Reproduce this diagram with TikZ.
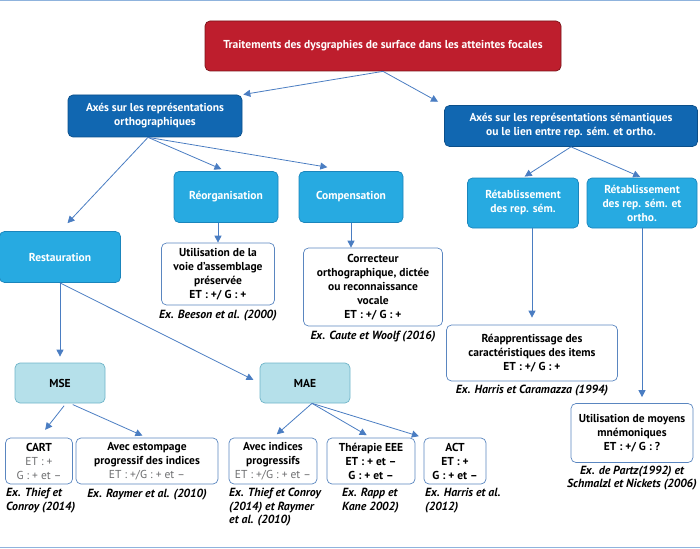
\documentclass[tikz,border=0pt]{standalone}
\usepackage{fontspec}
\setmainfont{PT Sans}
\usetikzlibrary{arrows.meta}

\definecolor{dgred}{HTML}{BE1E2D}
\definecolor{dgredline}{HTML}{7A1419}
\definecolor{dgdark}{HTML}{1167B1}
\definecolor{dgdarkline}{HTML}{0B4F8A}
\definecolor{dglight}{HTML}{27AAE1}
\definecolor{dglightline}{HTML}{1A85BC}
\definecolor{dgpale}{HTML}{B5E0EA}
\definecolor{dgpaleline}{HTML}{6FB4C8}
\definecolor{dgedge}{HTML}{4A7DC2}
\definecolor{dgframe}{HTML}{5A86C0}
\definecolor{dgrule}{HTML}{8FB3DD}
\definecolor{dggrey}{HTML}{6D6E70}

\newcommand{\dgnode}[6] {\node at (#1) (#2) [#3, minimum width=#4pt, minimum height=#5pt] {#6};}
\newcommand{\dgref}[4] {\node at (#1) (#2) [refnote, #3] {#4};}
\newcommand{\dgarrow}[3][] {\draw [dgline, #1] (#2) -- (#3);}
\newcommand{\dgsoft}[1] {\textcolor{dggrey}{\mdseries #1}}

\begin{document}
\begin{tikzpicture}[x=1pt, y=-1pt,
  base/.style={rounded corners=5pt, align=center, inner sep=1pt, line width=0.7pt,
    font=\fontsize{11.5}{14}\selectfont\bfseries},
  redbox/.style={base, fill=dgred, draw=dgredline, text=white},
  darkbox/.style={base, fill=dgdark, draw=dgdarkline, text=white},
  lightbox/.style={base, fill=dglight, draw=dglightline, text=white},
  palebox/.style={base, fill=dgpale, draw=dgpaleline, text=black},
  textbox/.style={base, fill=white, draw=dgframe, text=black},
  refnote/.style={align=center, inner sep=0pt,
    font=\fontsize{11.8}{13.5}\selectfont\bfseries\itshape},
  dgline/.style={draw=dgedge, line width=0.8pt, -{Triangle[length=7pt, width=7pt]}}]
\useasboundingbox (0,0) rectangle (700,548);
\draw [dgrule, line width=1pt] (0,0.5) -- (700,0.5);
\draw [dgrule, line width=1pt] (0,547) -- (700,547);

\dgnode {383,46}  {top}    {redbox}   {356}{50} {Traitements des dysgraphies de surface dans les atteintes focales};
\dgnode {155,116} {ortho}  {darkbox}  {174}{42} {Axés sur les représentations\\orthographiques};
\dgnode {571,126} {sem}    {darkbox}  {253}{41} {Axés sur les représentations sémantiques\\ou le lien entre rep. sém. et ortho.};
\dgnode {226,197} {reorg}  {lightbox} {104}{51} {Réorganisation};
\dgnode {351,197} {comp}   {lightbox} {104}{51} {Compensation};
\dgnode {523,203} {retsem} {lightbox} {111}{50} {Rétablissement\\des rep. sém.};
\dgnode {642,203} {retso}  {lightbox} {110}{50} {Rétablissement\\des rep. sém. et\\ortho.};
\dgnode {60,257}  {resto}  {lightbox} {121}{51} {Restauration};
\dgnode {218,274} {util}   {textbox}  {113}{62} {Utilisation de la\\voie d’assemblage\\préservée\\ET : +/ G : +};
\dgnode {373,287} {corr}   {textbox}  {139}{78} {Correcteur\\orthographique, dictée\\ou reconnaissance\\vocale\\ET : +/ G : +};
\dgnode {532,353} {reapp}  {textbox}  {171}{56} {Réapprentissage des\\caractéristiques des items\\ET : +/ G : +};
\dgnode {60,383}  {mse}    {palebox}  {90}{40}  {MSE};
\dgnode {305,383} {mae}    {palebox}  {90}{40}  {MAE};
\dgnode {632,433} {mnemo}  {textbox}  {122}{59} {Utilisation de moyens\\mnémoniques\\ET : +/ G : ?};
\dgnode {39,461}  {cart}   {textbox}  {67}{46}  {CART\\\dgsoft{ET : +}\\\dgsoft{G : + et –}};
\dgnode {147,461} {estomp} {textbox}  {142}{46} {Avec estompage\\progressif des indices\\\dgsoft{ET : +/G : + et –}};
\dgnode {273,461} {indic}  {textbox}  {88}{46}  {Avec indices\\progressifs\\\dgsoft{ET : +/G : + et –}};
\dgnode {371,461} {thera}  {textbox}  {88}{46}  {Thérapie EEE\\ET : + et –\\G : + et –};
\dgnode {455,461} {act}    {textbox}  {62}{46}  {ACT\\ET : +\\G : + et –};

\dgref {218,316} {beesonref} {} {Ex. Beeson et al. (2000)};
\dgref {373,337} {cauteref}  {} {Ex. Caute et Woolf (2016)};
\dgref {532,391} {harrisref} {} {Ex. Harris et Caramazza (1994)};
\dgref {632,478} {partzref}  {} {Ex. de Partz(1992) et\\Schmalzl et Nickets (2006)};
\dgref {6,488}   {thiefref}  {anchor=north west, align=left} {Ex. Thief et\\Conroy (2014)};
\dgref {147,495} {raymerref} {} {Ex. Raymer et al. (2010)};
\dgref {229,488} {indicref}  {anchor=north west, align=left} {Ex. Thief et Conroy\\(2014) et Raymer\\et al. (2010)};
\dgref {342,488} {rappref}   {anchor=north west, align=left} {Ex. Rapp et\\Kane 2002)};
\dgref {425,488} {actref}    {anchor=north west, align=left} {Ex. Harris et al.\\(2012)};

\dgarrow[shorten >=1pt]{top.south}{ortho.north east};
\dgarrow[shorten >=7pt]{top.south}{sem.north west};
\dgarrow[shorten >=11pt]{[xshift=-7pt]ortho.south}{resto.north};
\dgarrow[shorten >=5pt]{[xshift=-7pt]ortho.south}{reorg.north};
\dgarrow[shorten >=24pt]{[xshift=-7pt]ortho.south}{comp.north};
\dgarrow[shorten >=2pt]{sem.south}{retsem.north};
\dgarrow[shorten >=2pt]{sem.south}{retso.north};
\dgarrow{util.north |- reorg.south}{util.north};
\dgarrow{comp.south}{comp.south |- corr.north};
\dgarrow[shorten >=7pt]{reapp.north |- retsem.south}{reapp.north};
\dgarrow[shorten >=6pt]{retso.south}{retso.south |- mnemo.north};
\dgarrow[shorten >=6pt]{resto.south}{mse.north};
\dgarrow[shorten >=7pt]{resto.south}{mae.west};
\dgarrow[shorten <=3pt, shorten >=10pt]{[xshift=6pt]mse.south}{cart.north};
\dgarrow[shorten <=3pt, shorten >=5pt]{[xshift=10pt]mse.south}{estomp.north};
\dgarrow[shorten >=5pt]{[xshift=7pt]mae.south}{indic.north};
\dgarrow[shorten >=5pt]{[xshift=7pt]mae.south}{thera.north};
\dgarrow[shorten >=5pt]{[xshift=7pt]mae.south}{act.north west};
\end{tikzpicture}
\end{document}
